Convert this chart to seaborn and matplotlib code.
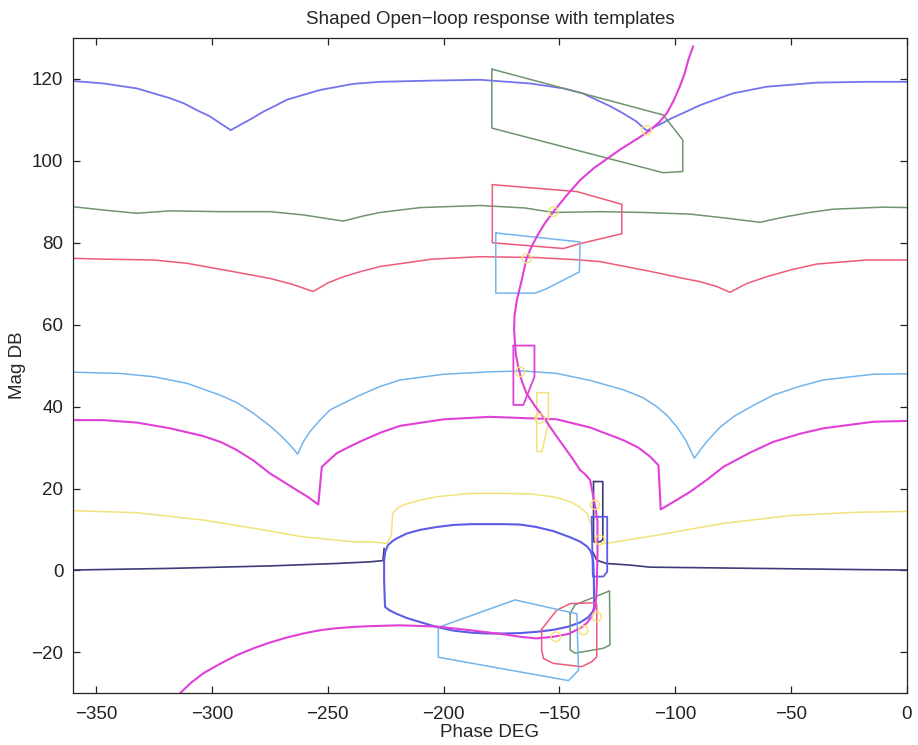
import matplotlib
matplotlib.use("Agg")
import matplotlib.pyplot as plt
import seaborn as sns
import pandas as pd

# ---------------- data (phase in degrees, magnitude in dB) ----------------
# bound curves
blue_top_ph = [-360, -346.9, -332.5, -318.1, -312.0, -306.6, -301.0, -296.5, -291.9, -286.5,
               -282.0, -277.9, -272.5, -267.8, -260.0, -253.4, -239.0, -227.5, -205.0, -184.3,
               -162.7, -148.4, -140.0, -134.0, -128.0, -122.5, -117.0, -112.4, -107.0, -101.6,
               -95.0, -89.3, -82.0, -75.0, -60.6, -39.0, -17.4, 0]
blue_top_mg = [119.5, 118.9, 117.7, 115.3, 114.0, 112.4, 110.9, 109.2, 107.5, 109.2,
               110.6, 112.0, 113.5, 114.9, 116.2, 117.3, 118.8, 119.3, 119.6, 119.8,
               118.9, 117.7, 116.5, 114.9, 113.3, 111.6, 109.7, 107.4, 108.8, 110.4,
               112.1, 113.6, 115.1, 116.5, 118.1, 119.1, 119.3, 119.3]

green_ph = [-360, -346.9, -332.5, -318.1, -296.5, -275.0, -260.6, -243.3, -235.0, -227.5,
            -210.0, -184.3, -165.0, -152.6, -132.5, -113.8, -93.6, -77.8, -63.4, -57.0,
            -51.9, -42.0, -31.8, -10.2, 0]
green_mg = [88.8, 88.0, 87.2, 87.8, 87.6, 87.6, 86.8, 85.3, 86.5, 87.4,
            88.6, 89.1, 88.5, 87.4, 87.6, 87.4, 87.0, 86.0, 85.0, 85.8,
            86.4, 87.4, 88.2, 88.7, 88.6]

red_ph = [-360, -346.9, -325.3, -310.9, -292.2, -275.0, -265.0, -256.3, -250.0, -243.3,
          -235.0, -227.5, -205.0, -184.3, -160.0, -141.1, -132.5, -112.4, -96.5, -89.3,
          -82.0, -76.4, -69.0, -60.6, -50.0, -39.0, -17.4, 0]
red_mg = [76.2, 76.0, 75.8, 75.0, 73.1, 71.3, 69.8, 68.1, 70.2, 71.7,
          73.1, 74.2, 76.0, 76.6, 76.4, 75.8, 75.4, 73.2, 71.3, 70.5,
          69.3, 67.9, 70.1, 71.7, 73.4, 74.8, 75.8, 75.8]

lblue_ph = [-360, -339.7, -325.3, -310.9, -296.5, -289.3, -282.2, -275.0, -270.6, -266.3,
            -263.0, -260.6, -257.7, -253.4, -249.0, -243.3, -236.1, -227.5, -218.8, -200.0,
            -180.0, -165.6, -151.2, -136.8, -122.4, -114.0, -108.0, -103.5, -99.4, -95.5,
            -91.8, -89.0, -86.5, -81.0, -75.0, -66.0, -57.7, -46.0, -36.1, -14.6, 0]
lblue_mg = [48.4, 48.1, 47.3, 45.7, 42.8, 41.0, 38.4, 35.3, 33.1, 30.6,
            28.4, 31.4, 33.9, 36.7, 39.2, 40.8, 42.8, 44.9, 46.5, 47.9,
            48.5, 48.7, 48.1, 46.4, 44.1, 42.2, 40.0, 37.8, 35.1, 31.8,
            27.4, 29.6, 31.4, 34.8, 37.5, 40.4, 42.8, 45.0, 46.5, 47.9, 48.0]

mag_ph = [-360, -346.9, -332.5, -318.1, -303.7, -296.0, -289.3, -282.0, -275.0, -269.0,
          -263.4, -258.5, -254.1, -252.6, -246.2, -240.0, -234.7, -227.0, -218.8, -200.0,
          -180.0, -151.2, -136.8, -122.4, -116.0, -110.9, -107.3, -106.3, -100.0, -93.6,
          -86.0, -79.2, -68.0, -57.7, -46.0, -36.1, -14.6, 0]
mag_mg = [36.7, 36.7, 36.1, 34.7, 32.8, 31.3, 29.4, 26.8, 23.7, 21.6,
          19.6, 17.9, 16.1, 25.3, 28.6, 30.4, 31.8, 33.7, 35.3, 36.9,
          37.5, 36.9, 34.9, 31.8, 30.0, 27.8, 25.7, 14.9, 17.0, 19.2,
          22.3, 25.3, 28.7, 31.4, 33.4, 34.7, 36.3, 36.5]

yel_ph = [-360, -332.5, -303.7, -282.2, -260.6, -239.0, -231.8, -224.6, -222.6, -222.0,
          -220.0, -217.4, -210.0, -203.0, -188.6, -174.2, -162.7, -152.0, -145.4, -141.0,
          -138.2, -136.0, -134.8, -129.8, -108.0, -79.2, -50.4, -21.6, 0]
yel_mg = [14.6, 14.1, 12.3, 10.3, 8.2, 7.0, 7.0, 6.6, 8.5, 13.9,
          15.2, 16.0, 17.2, 18.0, 18.8, 18.8, 18.7, 17.9, 16.8, 15.4,
          13.9, 10.7, 7.0, 6.6, 8.6, 11.5, 13.4, 14.2, 14.4]

navy_l_ph = [-360, -318.1, -275.0, -246.2, -231.8, -226.2, -225.7]
navy_l_mg = [0.1, 0.5, 1.1, 1.7, 2.1, 2.4, 5.4]
navy_r_ph = [-135.6, -133.9, -129.8, -119.5, -110.9, -80.0, -50.0, -20.0, 0]
navy_r_mg = [4.5, 2.5, 1.7, 1.3, 0.8, 0.6, 0.4, 0.2, 0.1]

ell_ph = [-225.7, -225.2, -224.0, -222.0, -220.3, -216.0, -210.2, -203.0, -195.8, -188.0,
          -181.4, -174.0, -167.0, -160.0, -152.6, -145.4, -141.0, -138.2, -136.6, -135.8,
          -135.4, -135.2, -135.0, -135.6, -137.5, -141.1, -146.0, -152.6, -160.0, -167.0,
          -174.0, -181.4, -188.0, -195.8, -203.0, -210.2, -216.0, -220.3, -223.5, -225.3,
          -225.7, -225.7]
ell_mg = [2.5, 4.6, 6.2, 7.2, 7.8, 9.0, 9.9, 10.6, 11.1, 11.3,
          11.3, 11.3, 11.2, 10.6, 9.6, 8.1, 7.0, 5.9, 4.8, 3.5,
          2.0, -1.5, -8.9, -10.0, -11.4, -12.7, -13.7, -14.5, -15.0, -15.3,
          -15.4, -15.4, -15.2, -14.7, -13.8, -12.6, -11.6, -10.6, -9.7, -8.9,
          -2.3, 2.5]

# shaped open-loop L0
l0_ph = [-313.8, -309.0, -303.7, -296.5, -289.3, -282.0, -275.0, -267.8, -260.6, -253.4,
         -246.2, -239.0, -231.8, -218.8, -203.0, -188.6, -174.2, -167.0, -159.9, -152.6,
         -146.0, -141.1, -138.3, -136.1, -134.8, -134.2, -133.9, -133.6, -133.6, -134.6,
         -135.8, -136.8, -138.8, -141.1, -144.0, -147.5, -151.2, -154.0, -157.0, -160.8,
         -164.2, -166.3, -167.8, -168.8, -169.2, -169.6, -169.4, -168.4, -166.3, -164.2,
         -162.2, -159.8, -156.5, -152.6, -147.0, -141.1, -135.0, -128.2, -124.0, -119.5,
         -115.0, -110.9, -107.0, -103.7, -100.8, -98.1, -96.0, -94.4, -92.3]
l0_mg = [-30.0, -27.4, -25.1, -22.8, -20.7, -19.0, -17.6, -16.4, -15.4, -14.6,
         -14.1, -13.8, -13.6, -13.4, -13.7, -14.6, -15.6, -16.2, -16.6, -16.2,
         -15.5, -14.1, -12.9, -11.3, -9.3, -7.0, -4.0, 4.2, 12.3, 15.5,
         19.2, 22.1, 23.4, 24.5, 27.0, 29.8, 32.7, 35.0, 37.5, 40.3,
         43.2, 46.3, 49.7, 52.6, 55.5, 58.7, 62.3, 66.0, 70.9, 76.2,
         78.9, 81.5, 84.6, 87.6, 91.5, 95.3, 98.3, 101.0, 102.7, 104.3,
         105.9, 107.5, 109.4, 111.6, 114.6, 118.1, 121.3, 124.6, 128.0]

# templates (closed polygons)
tpl_green_big_ph = [-179.2, -105.2, -96.8, -96.8, -105.2, -179.2, -179.2]
tpl_green_big_mg = [122.4, 111.2, 105.1, 97.4, 97.1, 108.0, 122.4]
tpl_red_up_ph = [-179.0, -142.5, -123.1, -123.1, -141.1, -148.3, -179.0, -179.0]
tpl_red_up_mg = [94.2, 92.5, 89.4, 82.2, 79.8, 78.6, 80.0, 94.2]
tpl_lblue_up_ph = [-177.5, -141.1, -141.4, -155.5, -160.5, -177.5, -177.5]
tpl_lblue_up_mg = [82.4, 80.2, 72.9, 68.8, 67.7, 67.7, 82.4]
tpl_mag_ph = [-169.9, -160.8, -160.8, -165.6, -169.9, -169.9]
tpl_mag_mg = [54.9, 54.9, 47.3, 40.4, 40.4, 54.9]
tpl_yel_ph = [-159.8, -154.8, -154.8, -157.6, -159.8, -159.8]
tpl_yel_mg = [43.4, 43.4, 36.0, 29.0, 29.0, 43.4]
tpl_navy_ph = [-135.3, -131.3, -131.3, -132.5, -135.3, -135.3]
tpl_navy_mg = [21.7, 21.7, 7.5, 7.0, 7.0, 21.7]
tpl_blue_ph = [-136.1, -129.4, -129.4, -131.0, -135.6, -136.1]
tpl_blue_mg = [13.1, 13.1, -0.3, -1.5, -1.5, 13.1]
tpl_green_lo_ph = [-145.4, -143.3, -131.0, -128.4, -128.2, -131.0, -143.3, -145.4, -145.4]
tpl_green_lo_mg = [-10.5, -8.4, -5.6, -5.0, -18.2, -19.0, -20.2, -19.4, -10.5]
tpl_red_lo_ph = [-157.7, -151.2, -145.4, -134.6, -133.9, -133.9, -136.1, -140.5, -152.6,
                 -156.9, -157.7, -157.7]
tpl_red_lo_mg = [-14.4, -9.7, -8.1, -7.9, -8.4, -21.1, -22.3, -23.5, -22.7,
                 -21.5, -19.4, -14.4]
tpl_lblue_lo_ph = [-202.3, -169.2, -142.5, -141.8, -146.1, -202.3, -202.3]
tpl_lblue_lo_mg = [-13.9, -7.2, -10.6, -24.4, -26.9, -21.2, -13.9]

# nominal points (small yellow circles)
nom_ph = [-112.4, -152.6, -164.2, -167.0, -158.5, -132.5, -134.6, -133.9, -139.7, -151.6]
nom_mg = [107.5, 87.6, 76.2, 48.5, 37.1, 7.4, 16.0, -11.3, -14.6, -16.2]

# ---------------- styling ----------------
sns.set_style("ticks")
plt.rcParams['font.family'] = ['Liberation Sans', 'DejaVu Sans']
plt.rcParams.update({
    'xtick.direction': 'in', 'ytick.direction': 'in',
    'xtick.top': True, 'ytick.right': True,
    'xtick.major.size': 5, 'ytick.major.size': 5,
    'xtick.major.width': 0.9, 'ytick.major.width': 0.9,
    'axes.linewidth': 0.9, 'axes.edgecolor': '#222222',
})

C_BLUE = '#7373ee'
C_GREEN = '#6f946f'
C_RED = '#ee5a7a'
C_LBLUE = '#72b4ec'
C_MAG = '#e040d8'
C_YEL = '#f2e27a'
C_NAVY = '#3c3c78'
C_ELL = '#5c5ce6'

fig = plt.figure(figsize=(9.18, 7.45), dpi=100)
ax = fig.add_axes([0.0795, 0.0694, 0.9085, 0.8796])


def draw(ph, mg, color, lw=1.1):
    df = pd.DataFrame({'phase': ph, 'mag': mg})
    sns.lineplot(data=df, x='phase', y='mag', sort=False, estimator=None,
                 color=color, lw=lw, ax=ax)


draw(blue_top_ph, blue_top_mg, C_BLUE, 1.3)
draw(green_ph, green_mg, C_GREEN)
draw(red_ph, red_mg, C_RED)
draw(lblue_ph, lblue_mg, C_LBLUE)
draw(mag_ph, mag_mg, C_MAG, 1.5)
draw(yel_ph, yel_mg, C_YEL)
draw(navy_l_ph, navy_l_mg, C_NAVY, 1.2)
draw(navy_r_ph, navy_r_mg, C_NAVY, 1.2)
draw(ell_ph, ell_mg, C_ELL, 1.5)

draw(tpl_green_big_ph, tpl_green_big_mg, C_GREEN)
draw(tpl_red_up_ph, tpl_red_up_mg, C_RED)
draw(tpl_lblue_up_ph, tpl_lblue_up_mg, C_LBLUE)
draw(tpl_mag_ph, tpl_mag_mg, C_MAG, 1.3)
draw(tpl_yel_ph, tpl_yel_mg, C_YEL)
draw(tpl_navy_ph, tpl_navy_mg, C_NAVY, 1.2)
draw(tpl_blue_ph, tpl_blue_mg, C_ELL, 1.3)
draw(tpl_green_lo_ph, tpl_green_lo_mg, C_GREEN)
draw(tpl_red_lo_ph, tpl_red_lo_mg, C_RED)
draw(tpl_lblue_lo_ph, tpl_lblue_lo_mg, C_LBLUE)

draw(l0_ph, l0_mg, C_MAG, 1.5)

sns.scatterplot(x=nom_ph, y=nom_mg, ax=ax, s=45, facecolor='none',
                edgecolor=C_YEL, linewidth=1.0, zorder=5)

ax.set_xlim(-360, 0)
ax.set_ylim(-30, 130)
ax.set_xticks([-350, -300, -250, -200, -150, -100, -50, 0])
ax.set_yticks([-20, 0, 20, 40, 60, 80, 100, 120])
ax.tick_params(axis='x', labelsize=13.5, colors='#222222', pad=9)
ax.tick_params(axis='y', labelsize=13.5, colors='#222222', pad=7)
ax.set_xlabel('Phase DEG', fontsize=13.5, labelpad=1)
ax.set_ylabel('Mag DB', fontsize=13.5, labelpad=4)
ax.set_title('Shaped Open\u2212loop response with templates', fontsize=13.5, pad=10)
for s in ax.spines.values():
    s.set_visible(True)

fig.savefig('out.png', dpi=100)
